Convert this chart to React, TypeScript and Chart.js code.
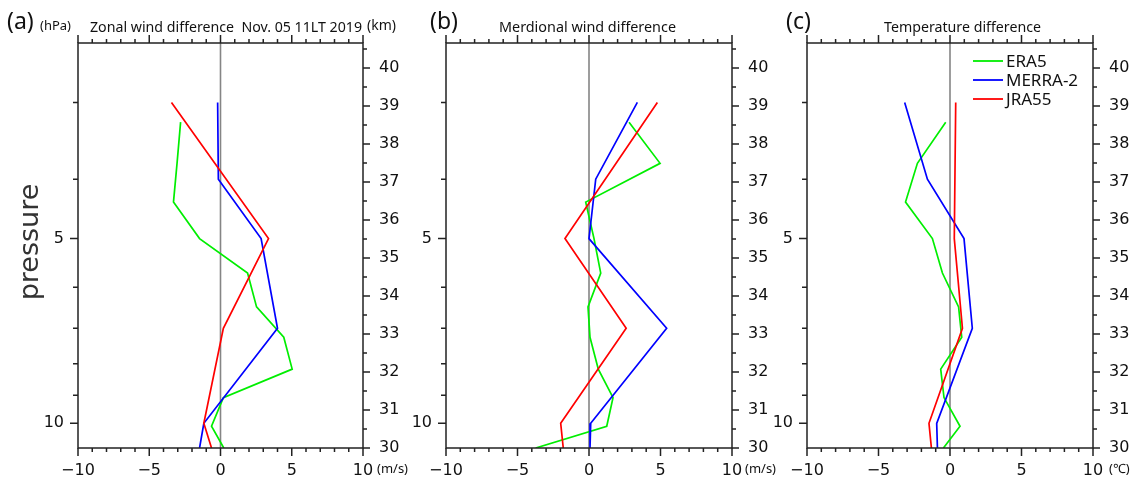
import React, { useEffect, useRef } from 'react';
import { Chart, registerables } from 'chart.js';

Chart.register(...registerables);

const W = 1135;
const H = 483;

// ---------- data ----------
const SERIES_NAMES = ['ERA5', 'MERRA-2', 'JRA55'];
const SERIES_COLORS = ['#00ee00', '#0000ff', '#ff0000'];

// pressure levels (hPa) of each reanalysis (last value = bottom edge of the plot)
const ERA5_LEVELS = [3.23, 3.77, 4.36, 5, 5.69, 6.46, 7.24, 8.16, 9.08, 10.11, 10.97];
const MERRA2_LEVELS = [3, 4, 5, 7, 10, 10.97];
const JRA55_LEVELS = [3, 5, 7, 10, 10.97];

// (a) zonal wind difference (m/s)
const ZONAL_ERA5 = [-2.8, -3.05, -3.3, -1.47, 1.9, 2.53, 4.44, 5.03, 0.2, -0.63, 0.23];
const ZONAL_MERRA2 = [-0.2, -0.15, 2.85, 4.0, -1.17, -1.47];
const ZONAL_JRA55 = [-3.44, 3.37, 0.2, -1.17, -0.63];

// (b) meridional wind difference (m/s)
const MERID_ERA5 = [2.8, 4.97, -0.23, 0.35, 0.82, -0.07, 0.07, 0.65, 1.68, 1.24, -3.73];
const MERID_MERRA2 = [3.38, 0.47, 0.0, 5.43, 0.12, 0.07];
const MERID_JRA55 = [4.78, -1.68, 2.6, -1.98, -1.8];

// (c) temperature difference (°C)
const TEMP_ERA5 = [-0.3, -2.28, -3.11, -1.23, -0.53, 0.6, 0.82, -0.65, -0.42, 0.7, -0.46];
const TEMP_MERRA2 = [-3.17, -1.58, 0.98, 1.56, -0.93, -0.88];
const TEMP_JRA55 = [0.4, 0.3, 0.87, -1.47, -1.3];

// axes
const X_MIN = -10;
const X_MAX = 10;
const X_TICKS = [-10, -5, 0, 5, 10];
const P_MIN = 2.44;
const P_MAX = 10.97;
const PRESSURE_TICKS = [3, 4, 5, 6, 7, 8, 9, 10];
const PRESSURE_LABELS = [5, 10];
const KM_MIN = 30;
const KM_MAX = 40.66;
const KM_TICKS = [30, 31, 32, 33, 34, 35, 36, 37, 38, 39, 40];

const PANEL_LETTERS = ['(a)', '(b)', '(c)'];
const PANEL_TITLES = [
  'Zonal wind difference  Nov. 05 11LT 2019',
  'Merdional wind difference',
  'Temperature difference',
];
const PANEL_UNITS = ['(m/s)', '(m/s)', '(\u2103)'];
const PANEL_DATA = [
  [ZONAL_ERA5, ZONAL_MERRA2, ZONAL_JRA55],
  [MERID_ERA5, MERID_MERRA2, MERID_JRA55],
  [TEMP_ERA5, TEMP_MERRA2, TEMP_JRA55],
];
const LEVELS = [ERA5_LEVELS, MERRA2_LEVELS, JRA55_LEVELS];

// ---------- layout ----------
const PANEL_LAYOUT = [
  { left: 78, right: 363, letterX: 7, titleX: 90, titleW: 272, unitX: 377 },
  { left: 446, right: 732, letterX: 430, titleX: 499, titleW: 177, unitX: 745 },
  { left: 807, right: 1093, letterX: 786, titleX: 884, titleW: 157, unitX: 1109 },
];
const AREA_TOP = 43;
const AREA_BOTTOM = 448;
const LW = 40;
const RW = 40;
const BH = 30;

const AXIS_COLOR = '#222';
const TICK_FONT = { family: '"DejaVu Sans", sans-serif', size: 16 };
const TEXT_FONT = '"Noto Sans", "Open Sans", sans-serif';

function fmtX(v: number) {
  return v < 0 ? '\u2212' + Math.abs(v) : String(v);
}

function makePlugin(idx: number) {
  const lay = PANEL_LAYOUT[idx];
  return {
    id: 'panelDecor' + idx,
    beforeDatasetsDraw(chart: any) {
      const { ctx, chartArea: a, scales } = chart;
      const x0 = scales.x.getPixelForValue(0);
      ctx.save();
      ctx.strokeStyle = '#858585';
      ctx.lineWidth = 1.6;
      ctx.beginPath();
      ctx.moveTo(x0, a.top);
      ctx.lineTo(x0, a.bottom);
      ctx.stroke();
      ctx.restore();
    },
    afterDraw(chart: any) {
      const { ctx, chartArea: a, scales } = chart;
      const xs = scales.x;
      const ys = scales.y;
      const ks = scales.km;
      ctx.save();
      ctx.strokeStyle = AXIS_COLOR;
      ctx.lineWidth = 1.5;
      ctx.strokeRect(a.left, a.top, a.right - a.left, a.bottom - a.top);
      ctx.beginPath();
      for (let v = X_MIN; v <= X_MAX; v++) {
        const px = xs.getPixelForValue(v);
        const len = v % 5 === 0 ? 8 : 4;
        ctx.moveTo(px, a.bottom);
        ctx.lineTo(px, a.bottom + len);
        ctx.moveTo(px, a.top);
        ctx.lineTo(px, a.top - len);
      }
      for (let k = KM_MIN; k <= KM_MAX; k += 0.5) {
        const py = ks.getPixelForValue(k);
        const len = Number.isInteger(k) ? 7 : 4;
        ctx.moveTo(a.right, py);
        ctx.lineTo(a.right + len, py);
      }
      for (const p of PRESSURE_TICKS) {
        const py = ys.getPixelForValue(p);
        const len = PRESSURE_LABELS.includes(p) ? 8 : 5;
        ctx.moveTo(a.left, py);
        ctx.lineTo(a.left - len, py);
      }
      ctx.stroke();

      // texts
      ctx.fillStyle = '#111';
      ctx.textBaseline = 'alphabetic';
      ctx.textAlign = 'left';
      ctx.font = '23px ' + TEXT_FONT;
      ctx.fillText(PANEL_LETTERS[idx], lay.letterX, 29);
      ctx.font = '15px ' + TEXT_FONT;
      ctx.fillText(PANEL_TITLES[idx], lay.titleX, 32, lay.titleW);
      ctx.font = '13px ' + TEXT_FONT;
      ctx.textBaseline = 'middle';
      ctx.fillText(PANEL_UNITS[idx], lay.unitX, 469);

      if (idx === 0) {
        ctx.textBaseline = 'alphabetic';
        ctx.font = '13px ' + TEXT_FONT;
        ctx.fillText('(hPa)', 40, 30);
        ctx.font = '14px ' + TEXT_FONT;
        ctx.fillText('(km)', 367, 30);
        ctx.save();
        ctx.translate(38, 242);
        ctx.rotate(-Math.PI / 2);
        ctx.textAlign = 'center';
        ctx.font = '27px "DejaVu Sans", sans-serif';
        ctx.fillStyle = '#333';
        ctx.fillText('pressure', 0, 0);
        ctx.restore();
      }

      if (idx === 2) {
        ctx.font = '17px ' + TEXT_FONT;
        ctx.textBaseline = 'middle';
        ctx.textAlign = 'left';
        const rows = [61, 80, 99];
        SERIES_NAMES.forEach((name, i) => {
          ctx.strokeStyle = SERIES_COLORS[i];
          ctx.lineWidth = 1.8;
          ctx.beginPath();
          ctx.moveTo(973, rows[i]);
          ctx.lineTo(1003, rows[i]);
          ctx.stroke();
          ctx.fillStyle = '#111';
          ctx.fillText(name, 1006, rows[i] + 1);
        });
      }
      ctx.restore();
    },
  };
}

function makeConfig(idx: number): any {
  const lay = PANEL_LAYOUT[idx];
  const datasets = SERIES_NAMES.map((name, s) => ({
    label: name,
    data: LEVELS[s].map((p, i) => ({ x: PANEL_DATA[idx][s][i], y: p })),
    borderColor: SERIES_COLORS[s],
    backgroundColor: SERIES_COLORS[s],
    borderWidth: 1.7,
    pointRadius: 0,
    fill: false,
    tension: 0,
    xAxisID: 'x',
    yAxisID: 'y',
    order: 2 - s,
  }));
  return {
    type: 'line',
    data: { datasets },
    options: {
      responsive: false,
      animation: false,
      devicePixelRatio: 1,
      layout: {
        padding: {
          left: lay.left - LW,
          right: W - lay.right - RW,
          top: AREA_TOP,
          bottom: H - AREA_BOTTOM - BH,
        },
      },
      plugins: {
        legend: { display: false },
        tooltip: { enabled: false },
        title: { display: false },
      },
      scales: {
        x: {
          type: 'linear',
          position: 'bottom',
          min: X_MIN,
          max: X_MAX,
          afterBuildTicks: (s: any) => {
            s.ticks = X_TICKS.map((v) => ({ value: v }));
          },
          afterFit: (s: any) => {
            s.height = BH;
          },
          ticks: {
            callback: (v: number) => fmtX(v),
            font: TICK_FONT,
            color: '#111',
            padding: 13,
            maxRotation: 0,
            autoSkip: false,
          },
          grid: { display: false, drawTicks: false },
          border: { display: false },
        },
        y: {
          type: 'logarithmic',
          position: 'left',
          reverse: true,
          min: P_MIN,
          max: P_MAX,
          afterBuildTicks: (s: any) => {
            s.ticks = PRESSURE_TICKS.map((v) => ({ value: v }));
          },
          afterFit: (s: any) => {
            s.width = LW;
          },
          ticks: {
            callback: (v: number) => (PRESSURE_LABELS.includes(v) ? String(v) : ''),
            font: TICK_FONT,
            color: '#111',
            padding: 14,
            autoSkip: false,
          },
          grid: { display: false, drawTicks: false },
          border: { display: false },
        },
        km: {
          type: 'linear',
          position: 'right',
          min: KM_MIN,
          max: KM_MAX,
          afterBuildTicks: (s: any) => {
            s.ticks = KM_TICKS.map((v) => ({ value: v }));
          },
          afterFit: (s: any) => {
            s.width = RW;
          },
          ticks: {
            font: TICK_FONT,
            color: '#111',
            padding: 16,
            autoSkip: false,
          },
          grid: { display: false, drawTicks: false },
          border: { display: false },
        },
      },
    },
    plugins: [makePlugin(idx)],
  };
}

export default function App() {
  const canvases = useRef<(HTMLCanvasElement | null)[]>([]);
  useEffect(() => {
    const charts = [0, 1, 2].map(
      (i) => new Chart(canvases.current[i] as HTMLCanvasElement, makeConfig(i))
    );
    return () => charts.forEach((c) => c.destroy());
  }, []);
  return (
    <div style={{ position: 'fixed', left: 0, top: 0, width: W, height: H, background: '#fff' }}>
      {[0, 1, 2].map((i) => (
        <canvas
          key={i}
          ref={(el) => {
            canvases.current[i] = el;
          }}
          width={W}
          height={H}
          style={{ position: 'absolute', left: 0, top: 0, width: W, height: H }}
        />
      ))}
    </div>
  );
}
